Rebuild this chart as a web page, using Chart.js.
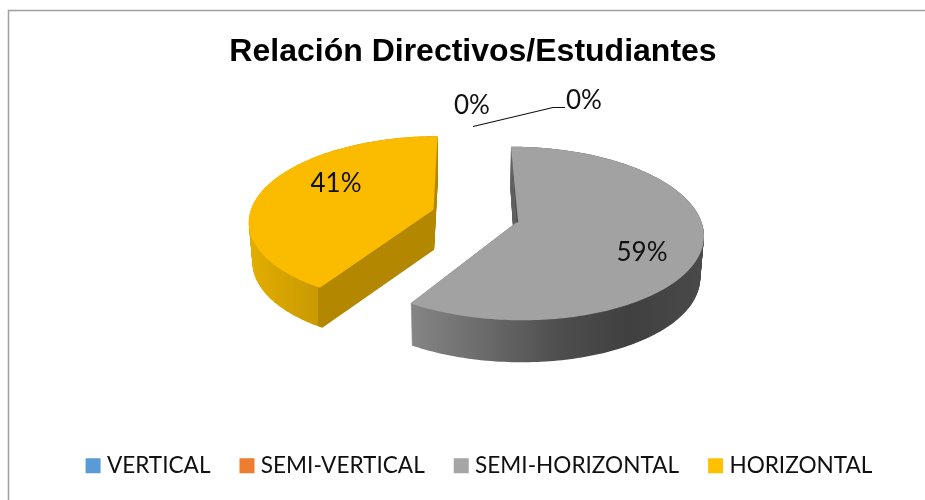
<!DOCTYPE html>
<html>
<head>
<meta charset="utf-8">
<style>html,body{margin:0;padding:0;background:#fff}canvas{display:block}</style>
<script src="https://cdn.jsdelivr.net/npm/chart.js@4/dist/chart.umd.js"></script>
</head>
<body>
<canvas id="c" width="925" height="500"></canvas>
<script>
const chartTitle = 'Relación Directivos/Estudiantes';
const categories = ['VERTICAL', 'SEMI-VERTICAL', 'SEMI-HORIZONTAL', 'HORIZONTAL'];
const shares = [0, 0, 59, 41];
const sliceColors = ['#5B9BD5', '#ED7D31', '#A5A5A5', '#FFC000'];
const legendColors = sliceColors;
const labelSpots = [[472, 106], [584, 101], [642, 253], [336, 184]];
const wallStops = [
  null, null,
  [[412, '#858585'], [480, '#6c6c6c'], [560, '#4e4e4e'], [630, '#404040'], [704, '#4a4a4a']],
  [[250, '#e3ae00'], [317.5, '#c99900'], [318.5, '#b38800'], [434, '#b38800']]
];
const topColors = [null, null, '#A2A2A2', '#FBBC00'];
const sliceDepth = [0, 0, 42, 40];
const sliceLift = [0, 0, 0, -2];

const view = { cx: 474.5, cy: 217, h: 84, k: 0.126, taper: 0.016 };

function project(a, i, dx, dy, t) {
  const R = a.outerRadius;
  const u = dx / R, v = dy / R;
  const s = 1 / (1 - view.k * v);
  const X = view.cx + R * u * s * (1 - view.taper * t);
  const Y = view.cy + view.h * v * s + sliceDepth[i] * t + sliceLift[i];
  return [X, Y];
}
function slicePoly(a, i, t) {
  const off = (a.options.offset || 0) / 4;
  const mid = (a.startAngle + a.endAngle) / 2;
  const ox = Math.cos(mid) * off, oy = Math.sin(mid) * off;
  const pts = [project(a, i, ox, oy, t)];
  const n = Math.max(2, Math.ceil((a.endAngle - a.startAngle) / 0.02));
  for (let j = 0; j <= n; j++) {
    const th = a.startAngle + (a.endAngle - a.startAngle) * j / n;
    pts.push(project(a, i, ox + Math.cos(th) * a.outerRadius, oy + Math.sin(th) * a.outerRadius, t));
  }
  return pts;
}
function fillPoly(ctx, pts, style) {
  ctx.beginPath();
  pts.forEach((p, i) => i ? ctx.lineTo(p[0], p[1]) : ctx.moveTo(p[0], p[1]));
  ctx.closePath();
  ctx.fillStyle = style;
  ctx.fill();
}

const pie3d = {
  id: 'pie3d',
  afterLayout(chart) {
    chart.legend.left += 8.5;
    chart.legend.right += 8.5;
  },
  beforeDraw(chart) {
    const ctx = chart.ctx;
    ctx.save();
    ctx.strokeStyle = '#A0A0A0';
    ctx.lineWidth = 1.5;
    ctx.beginPath();
    ctx.moveTo(8.5, 500); ctx.lineTo(8.5, 10.5); ctx.lineTo(925, 10.5);
    ctx.stroke();
    ctx.restore();
  },
  beforeDatasetsDraw(chart) {
    const ctx = chart.ctx;
    const arcs = chart.getDatasetMeta(0).data;
    ctx.save();
    arcs.forEach((a, i) => {
      if (a.endAngle - a.startAngle <= 0) return;
      const x0 = wallStops[i][0][0], x1 = wallStops[i][wallStops[i].length - 1][0];
      const g = ctx.createLinearGradient(x0, 0, x1, 0);
      wallStops[i].forEach(s => g.addColorStop((s[0] - x0) / (x1 - x0), s[1]));
      for (let d = sliceDepth[i]; d >= 0; d--) fillPoly(ctx, slicePoly(a, i, d / sliceDepth[i]), g);
      const top = slicePoly(a, i, 0);
      fillPoly(ctx, top, topColors[i]);
      if (i === 2) {
        fillPoly(ctx, [top[1], top[0], [top[0][0] + 2, top[0][1]]], '#505050');
      }
    });
    ctx.restore();
    return false;
  },
  afterDraw(chart) {
    const ctx = chart.ctx;
    ctx.save();
    ctx.strokeStyle = '#111';
    ctx.lineWidth = 1.2;
    ctx.beginPath();
    ctx.moveTo(473, 126.5); ctx.lineTo(553, 107.5); ctx.lineTo(565, 107.5);
    ctx.stroke();
    ctx.font = '26px Lato';
    ctx.fillStyle = '#111';
    ctx.textAlign = 'center';
    ctx.textBaseline = 'middle';
    const total = shares.reduce((p, v) => p + v, 0);
    shares.forEach((v, i) => ctx.fillText(Math.round(v / total * 100) + '%', labelSpots[i][0], labelSpots[i][1]));
    ctx.restore();
  }
};

new Chart(document.getElementById('c'), {
  type: 'pie',
  data: {
    labels: categories,
    datasets: [{ data: shares, backgroundColor: legendColors, offset: 172, borderWidth: 0 }]
  },
  plugins: [pie3d],
  options: {
    responsive: false,
    animation: false,
    rotation: -0.2,
    radius: 184,
    layout: { padding: { top: 0, bottom: 13, left: 21 } },
    plugins: {
      tooltip: { enabled: false },
      title: {
        display: true, text: chartTitle, color: '#000',
        font: { family: 'Liberation Sans', size: 32, weight: 'bold' },
        padding: { top: 33, bottom: 0 }
      },
      legend: {
        position: 'bottom',
        labels: {
          color: '#111',
          font: { family: 'Lato', size: 22.6 },
          boxWidth: 5, boxHeight: 5, padding: 34,
          generateLabels(chart) {
            return Chart.overrides.pie.plugins.legend.labels.generateLabels(chart).map(l =>
              Object.assign(l, { lineWidth: 10, strokeStyle: l.fillStyle }));
          }
        }
      }
    }
  }
});
</script>
</body>
</html>
